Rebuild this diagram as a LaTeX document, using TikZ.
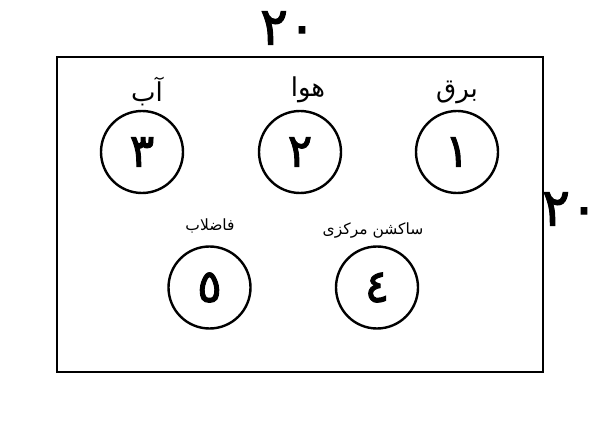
\documentclass[tikz,border=0pt]{standalone}
\usepackage{fontspec}
\newfontfamily\arabicfont[Script=Arabic]{DejaVu Sans}
\newfontfamily\arabicbold[Script=Arabic,FakeBold=2]{DejaVu Sans}
\TeXXeTstate=1
\begin{document}
\begin{tikzpicture}[x=1pt,y=-1pt,
  frame/.style={draw, line width=2pt, minimum width=486pt, minimum height=315pt, inner sep=0pt},
  numcirc/.style={draw, circle, line width=2.4pt, minimum size=82pt, inner sep=0pt,
    font=\arabicbold\fontsize{46}{46}\selectfont},
  biglabel/.style={inner sep=0pt, font=\arabicfont\fontsize{26}{26}\selectfont},
  smalllabel/.style={inner sep=0pt, font=\arabicfont\fontsize{15.5}{15.5}\selectfont},
  dim/.style={inner sep=0pt, font=\arabicbold\fontsize{52}{52}\selectfont}]
\useasboundingbox (0,0) rectangle (600,422);
\node[frame] (box) at (300,214.5) {};
\node[dim] (dimtop) at (288,28) {٢٠};
\node[dim] (dimright) at (570,209) {٢٠};
\node[numcirc] (c3) at (142,152) {٣};
\node[numcirc] (c2) at (300,152) {٢};
\node[numcirc] (c1) at (457,152) {١};
\node[numcirc] (c5) at (209.5,287.5) {٥};
\node[numcirc] (c4) at (377,287.5) {٤};
\node[biglabel] (l3) at (147,92) {\beginR آب\endR};
\node[biglabel] (l2) at (308,90) {\beginR هوا\endR};
\node[biglabel] (l1) at (457,92) {\beginR برق\endR};
\node[smalllabel] (l5) at (210,226) {\beginR فاضلاب\endR};
\node[smalllabel] (l4) at (373,231) {\beginR ساکشن مرکزی\endR};
\end{tikzpicture}
\end{document}
